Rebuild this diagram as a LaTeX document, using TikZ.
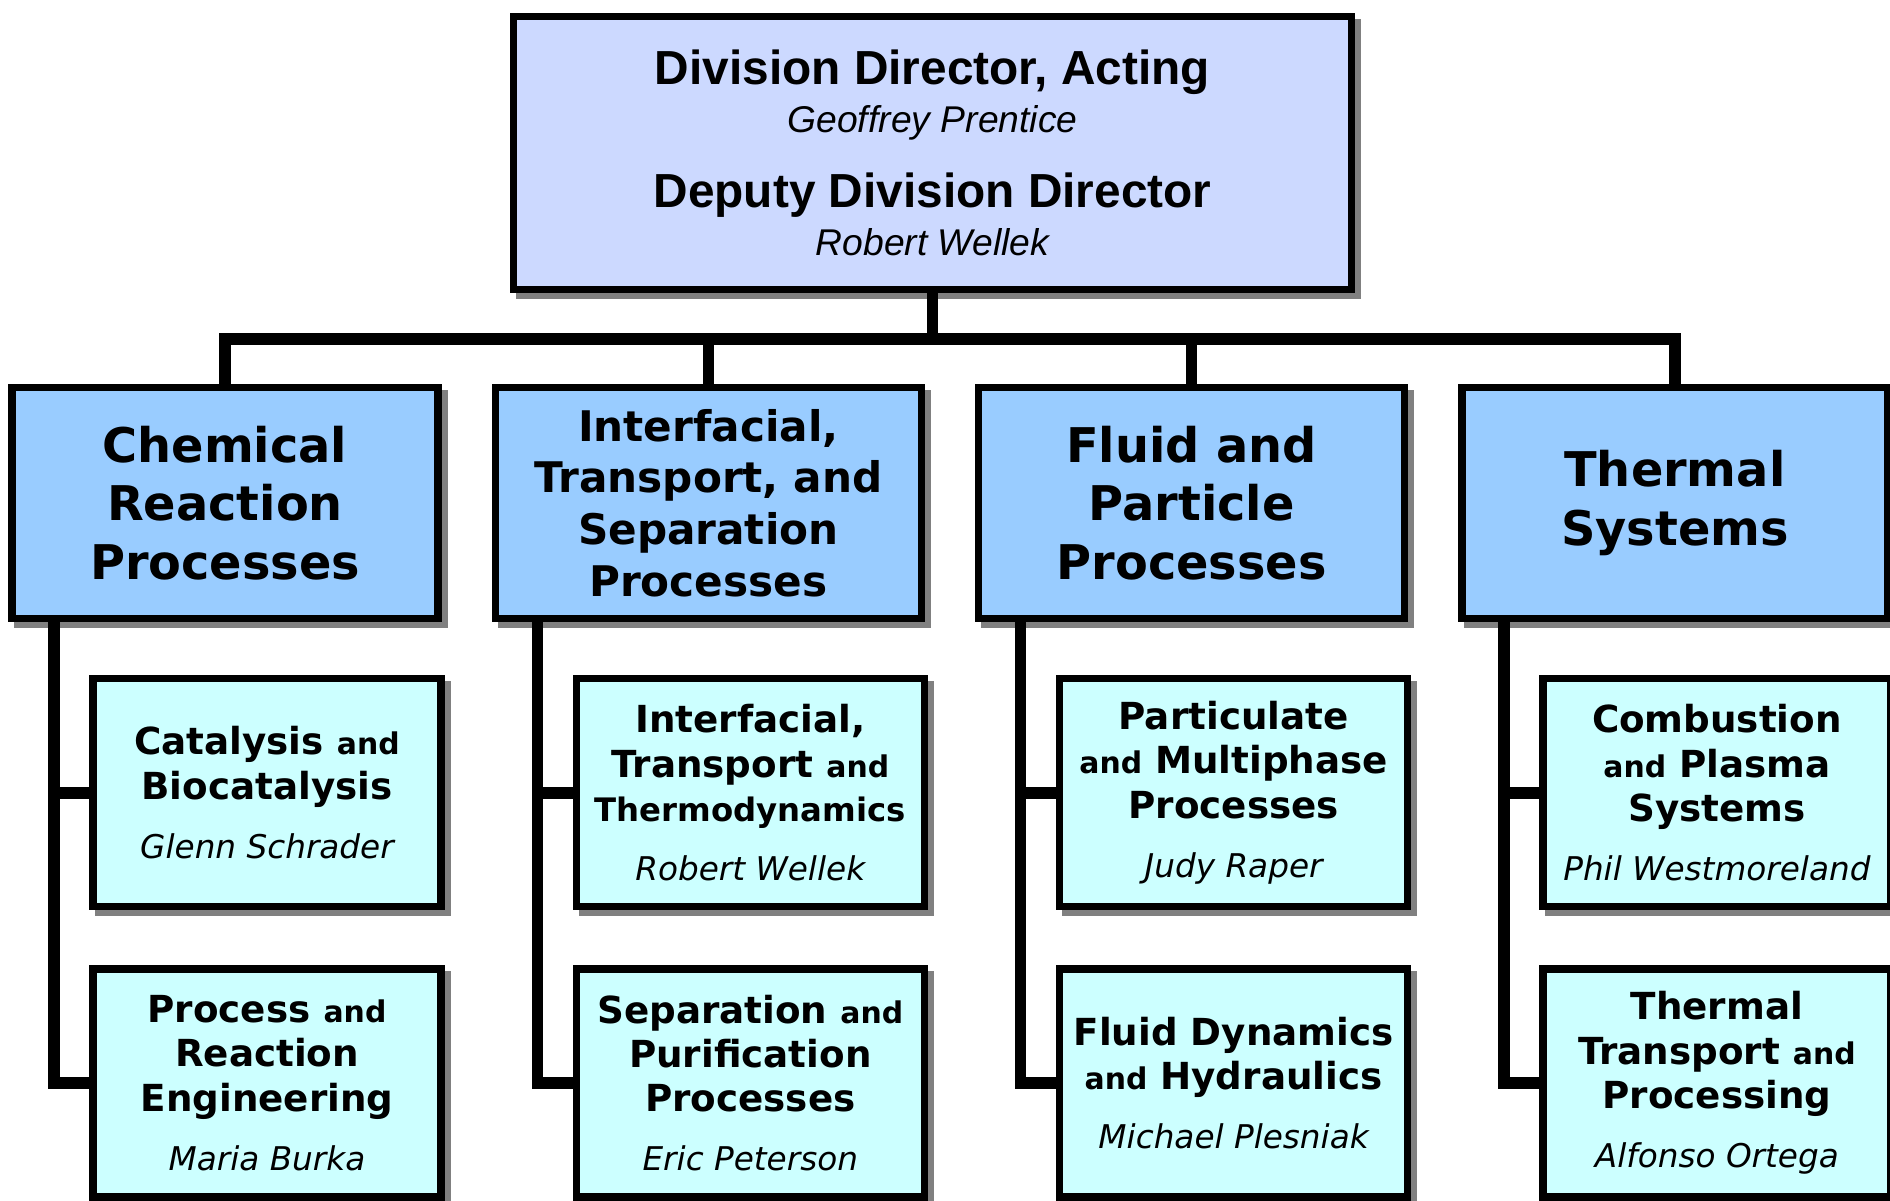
\documentclass[tikz,border=0pt]{standalone}
\usepackage{fontspec}
\setmainfont{DejaVu Sans}
\newfontfamily\arialfont{Liberation Sans}
\usetikzlibrary{positioning,shadows}
\definecolor{dirblue}{RGB}{204,217,255}
\definecolor{divblue}{RGB}{153,204,255}
\definecolor{progcyan}{RGB}{204,255,255}
\definecolor{shadowgray}{RGB}{128,128,128}
\newcommand{\sm}[1]{{\fontsize{8.5}{12.6}\selectfont #1}}
\newcommand{\who}[1]{{\mdseries\itshape\fontsize{9.3}{12.6}\selectfont #1}}
\newcommand{\head}[1]{{\itshape\fontsize{10.6}{13.8}\selectfont #1}}

\tikzset{
  box/.style={draw,line width=0.73mm,inner sep=0pt,align=center,
    drop shadow={shadow xshift=0.6mm,shadow yshift=-0.6mm,fill=shadowgray,draw=shadowgray,opacity=1}},
  dirbox/.style={box,fill=dirblue,minimum width=83.8mm,minimum height=27.3mm,
    font=\arialfont\fontsize{13.6}{13.8}\selectfont},
  divbox/.style={box,fill=divblue,minimum width=42.6mm,minimum height=23.1mm,
    font=\bfseries\fontsize{13.6}{16.6}\selectfont},
  progbox/.style={box,fill=progcyan,minimum width=34.8mm,minimum height=22.8mm,
    font=\bfseries\fontsize{10.6}{12.6}\selectfont},
  conn/.style={line width=1.15mm,line join=miter}
}

\begin{document}
\begin{tikzpicture}[x=0.1mm,y=-0.1mm]
\useasboundingbox (0,0) rectangle (1890,1200);

\node[dirbox] (dir) at (932.5,153) {{\bfseries Division Director, Acting}\\
  \head{Geoffrey Prentice}\\[2.6mm]
  {\bfseries Deputy Division Director}\\
  \head{Robert Wellek}};

% divisions
\node[divbox] (crp) at (225,503) {Chemical\\Reaction\\Processes};
\node[divbox,right=5mm of crp,font=\bfseries\fontsize{12}{14.7}\selectfont] (itsp) {Interfacial,\\Transport, and\\Separation\\Processes};
\node[divbox,right=5mm of itsp] (fpp) {Fluid and\\Particle\\Processes};
\node[divbox,right=5mm of fpp,font=\bfseries\fontsize{13.6}{17}\selectfont] (ths) {Thermal\\Systems};

% programs
\node[progbox,below=5.3mm of crp,xshift=4.2mm] (cat) {Catalysis \sm{and}\\Biocatalysis\\[1.5mm]\who{Glenn Schrader}};
\node[progbox,below=5.5mm of cat] (pre) {Process \sm{and}\\Reaction\\Engineering\\[1.5mm]\who{Maria Burka}};
\node[progbox,below=5.3mm of itsp,xshift=4.2mm] (itt) {Interfacial,\\Transport \sm{and}\\{\fontsize{9.2}{12.6}\selectfont Thermodynamics}\\[1.5mm]\who{Robert Wellek}};
\node[progbox,below=5.5mm of itt] (spp) {Separation \sm{and}\\Purification\\Processes\\[1.5mm]\who{Eric Peterson}};
\node[progbox,below=5.3mm of fpp,xshift=4.2mm] (pmp) {Particulate\\\sm{and} Multiphase\\Processes\\[1.5mm]\who{Judy Raper}};
\node[progbox,below=5.5mm of pmp] (fdh) {Fluid Dynamics\\\sm{and} Hydraulics\\[1.5mm]\who{Michael Plesniak}};
\node[progbox,below=5.3mm of ths,xshift=4.2mm] (cps) {Combustion\\\sm{and} Plasma\\Systems\\[1.5mm]\who{Phil Westmoreland}};
\node[progbox,below=5.5mm of cps] (ttp) {Thermal\\Transport \sm{and}\\Processing\\[1.5mm]\who{Alfonso Ortega}};

% connectors
\coordinate (bus) at (932.5,339);
\draw[conn] (dir.south) -- (dir.south |- bus);
\draw[conn] (crp.north) |- (bus) -| (ths.north);
\draw[conn] (itsp.north) -- (itsp.north |- bus);
\draw[conn] (fpp.north) -- (fpp.north |- bus);

\coordinate (crp-t) at ([xshift=-17.1mm]crp.south);
\coordinate (itsp-t) at ([xshift=-17.1mm]itsp.south);
\coordinate (fpp-t) at ([xshift=-17.1mm]fpp.south);
\coordinate (ths-t) at ([xshift=-17.1mm]ths.south);
\draw[conn] (crp-t) |- (pre.west);
\draw[conn] (crp-t |- cat.west) -- (cat.west);
\draw[conn] (itsp-t) |- (spp.west);
\draw[conn] (itsp-t |- itt.west) -- (itt.west);
\draw[conn] (fpp-t) |- (fdh.west);
\draw[conn] (fpp-t |- pmp.west) -- (pmp.west);
\draw[conn] (ths-t) |- (ttp.west);
\draw[conn] (ths-t |- cps.west) -- (cps.west);
\end{tikzpicture}
\end{document}
